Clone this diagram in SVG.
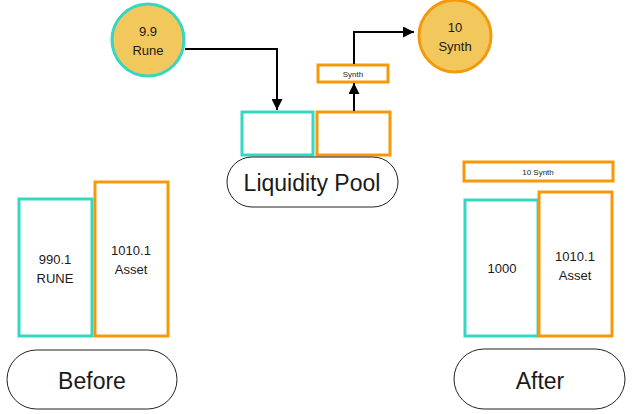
<svg xmlns="http://www.w3.org/2000/svg" width="633" height="414" viewBox="0 0 633 414">
<defs>
<style>
text{font-family:"Liberation Sans","Open Sans",Arial,sans-serif;fill:#1a1a1a;text-anchor:middle;dominant-baseline:central}
.teal{fill:#fff;stroke:#36D7C2;stroke-width:3}
.orange{fill:#fff;stroke:#F5990A;stroke-width:3}
.pill{fill:#fff;stroke:#222;stroke-width:1}
.c{stroke:#000;stroke-width:2;fill:none}
.big{font-size:23px}
.mid{font-size:13px}
.sm{font-size:8px}
</style>
<marker id="ah" viewBox="0 0 10 10" refX="10" refY="5" markerWidth="5.5" markerHeight="5.5" orient="auto" markerUnits="strokeWidth">
<path d="M0,0 L10,5 L0,10 z" fill="#000"/>
</marker>
</defs>
<rect width="633" height="414" fill="#fff"/>

<g id="rune-circle">
<circle cx="148" cy="40" r="36" fill="#F2C75C" stroke="#36D7C2" stroke-width="3"/>
<text class="mid" x="148" y="31">9.9</text>
<text class="mid" x="148" y="50">Rune</text>
</g>
<g id="synth-circle">
<circle cx="455" cy="36" r="36" fill="#F2C75C" stroke="#F5990A" stroke-width="3"/>
<text class="mid" x="455" y="27">10</text>
<text class="mid" x="455" y="46">Synth</text>
</g>

<g id="pool-rune"><rect class="teal" x="242" y="112" width="71" height="43"/></g>
<g id="pool-asset"><rect class="orange" x="317" y="112" width="73" height="43"/></g>
<g id="synth-box">
<rect class="orange" x="318" y="65" width="70" height="17"/>
<text class="sm" x="353" y="74">Synth</text>
</g>
<g id="liquidity-pool">
<rect class="pill" x="227" y="157" width="171" height="50" rx="25"/>
<text class="big" x="312" y="183">Liquidity Pool</text>
</g>

<g id="before-rune">
<rect class="teal" x="19" y="199" width="73" height="137"/>
<text class="mid" x="55" y="259">990.1</text>
<text class="mid" x="55" y="278">RUNE</text>
</g>
<g id="before-asset">
<rect class="orange" x="95" y="182" width="73" height="154"/>
<text class="mid" x="131" y="250">1010.1</text>
<text class="mid" x="131" y="269">Asset</text>
</g>
<g id="before">
<rect class="pill" x="7" y="350" width="170" height="59" rx="29.5"/>
<text class="big" x="92" y="381">Before</text>
</g>

<g id="after-synth">
<rect class="orange" x="464" y="162" width="149" height="19"/>
<text class="sm" x="538" y="172">10 Synth</text>
</g>
<g id="after-rune">
<rect class="teal" x="465" y="200" width="73" height="136"/>
<text class="mid" x="502" y="268">1000</text>
</g>
<g id="after-asset">
<rect class="orange" x="539" y="192" width="73" height="144"/>
<text class="mid" x="575" y="256">1010.1</text>
<text class="mid" x="575" y="275">Asset</text>
</g>
<g id="after">
<rect class="pill" x="454" y="349" width="171" height="60" rx="30"/>
<text class="big" x="540" y="381">After</text>
</g>

<g id="connectors">
<path class="c" d="M185,49 H277 V110" marker-end="url(#ah)"/>
<path class="c" d="M354,111 V83" marker-end="url(#ah)"/>
<path class="c" d="M354,64 V32 H414" marker-end="url(#ah)"/>
</g>
</svg>
